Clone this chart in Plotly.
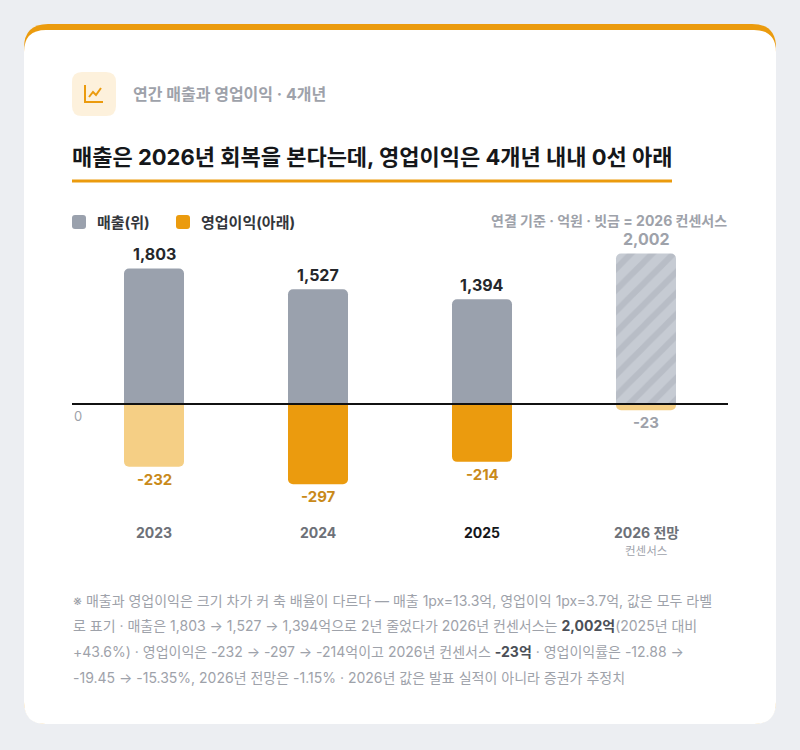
import plotly.graph_objects as go

# 데이터 (억원)
years = ["2023", "2024", "2025", "2026"]
year_labels = ["2023", "2024", "2025", "2026 전망"]
revenue = [1803, 1527, 1394, 2002]
op_profit = [-232, -297, -214, -23]
n_actual = 3  # 2026은 컨센서스 추정치

footnote_lines = [
    "※ 매출과 영업이익은 크기 차가 커 축 배율이 다르다 — 매출 1px=13.3억, 영업이익 1px=3.7억, 값은 모두 라벨",
    "로 표기 · 매출은 1,803 → 1,527 → 1,394억으로 2년 줄었다가 2026년 컨센서스는 <b style='color:#4b4f57'>2,002억</b>(2025년 대비",
    "+43.6%) · 영업이익은 -232 → -297 → -214억이고 2026년 컨센서스 <b style='color:#4b4f57'>-23억</b> · 영업이익률은 -12.88 →",
    "-19.45 → -15.35%, 2026년 전망은 -1.15% · 2026년 값은 발표 실적이 아니라 증권가 추정치",
]

W, H = 800, 750
FONT = "Inter, 'Noto Sans CJK KR', sans-serif"

# 픽셀 배치
PLOT_L, PLOT_R = 72, 728
PLOT_T, PLOT_B, ZERO = 240, 510, 404
REV_PER_PX = 13.3
OP_PER_PX = 3.7

GRAY = "#9aa1ad"
GRAY_EST = "#c6cbd3"
GRAY_STRIPE = "#b8bdc6"
ORANGE = "#eb9b0e"
ORANGE_LIGHT = "#f5cf85"


def px_x(p):
    return p / W


def px_y(p):
    return 1 - p / H


def rounded_rect(x0, y0, x1, y1, r):
    # 픽셀 좌표 -> paper 좌표의 둥근 사각형 path
    X = px_x
    Y = px_y
    return (
        f"M {X(x0 + r)} {Y(y0)} L {X(x1 - r)} {Y(y0)} Q {X(x1)} {Y(y0)} {X(x1)} {Y(y0 + r)} "
        f"L {X(x1)} {Y(y1 - r)} Q {X(x1)} {Y(y1)} {X(x1 - r)} {Y(y1)} "
        f"L {X(x0 + r)} {Y(y1)} Q {X(x0)} {Y(y1)} {X(x0)} {Y(y1 - r)} "
        f"L {X(x0)} {Y(y0 + r)} Q {X(x0)} {Y(y0)} {X(x0 + r)} {Y(y0)} Z"
    )


def poly(points):
    return "M " + " L ".join(f"{px_x(a)} {px_y(b)}" for a, b in points)


fig = go.Figure()

idx = list(range(len(years)))
op_colors = [ORANGE_LIGHT, ORANGE, ORANGE, ORANGE_LIGHT]

# 매출 실적
fig.add_trace(go.Bar(
    x=idx[:n_actual], y=revenue[:n_actual], yaxis="y",
    marker=dict(color=GRAY, line=dict(width=0)),
    hoverinfo="skip", showlegend=False,
))
# 매출 컨센서스 (빗금)
fig.add_trace(go.Bar(
    x=idx[n_actual:], y=revenue[n_actual:], yaxis="y",
    marker=dict(
        color=GRAY_EST, line=dict(width=0),
        pattern=dict(shape="/", fgcolor=GRAY_STRIPE, fgopacity=1, size=15, solidity=0.4, fillmode="overlay"),
    ),
    hoverinfo="skip", showlegend=False,
))
# 영업이익
fig.add_trace(go.Bar(
    x=idx, y=op_profit, yaxis="y2",
    marker=dict(color=op_colors, line=dict(width=0)),
    hoverinfo="skip", showlegend=False,
))

rev_range = [-(PLOT_B - ZERO) * REV_PER_PX, (ZERO - PLOT_T) * REV_PER_PX]
op_range = [-(PLOT_B - ZERO) * OP_PER_PX, (ZERO - PLOT_T) * OP_PER_PX]

annotations = []
shapes = []

# 카드 배경
shapes.append(dict(type="path", path=rounded_rect(24, 24, 776, 724, 24), xref="paper", yref="paper",
                   fillcolor=ORANGE, line=dict(width=0), layer="below"))
shapes.append(dict(type="path", path=rounded_rect(24, 30, 776, 724, 22), xref="paper", yref="paper",
                   fillcolor="white", line=dict(width=0), layer="below"))

# 아이콘
shapes.append(dict(type="path", path=rounded_rect(72, 72, 116, 116, 10), xref="paper", yref="paper",
                   fillcolor="#fdf1dc", line=dict(width=0), layer="below"))
shapes.append(dict(type="path", path=poly([(85, 85), (85, 102), (103, 102)]), xref="paper", yref="paper",
                   line=dict(color=ORANGE, width=2)))
shapes.append(dict(type="path", path=poly([(89, 97), (93, 92), (96, 95), (101, 88)]), xref="paper", yref="paper",
                   line=dict(color=ORANGE, width=2)))

# 제목 밑줄
shapes.append(dict(type="line", xref="paper", yref="paper", x0=px_x(72), x1=px_x(672),
                   y0=px_y(181), y1=px_y(181), line=dict(color=ORANGE, width=3)))

# 범례 사각형
shapes.append(dict(type="path", path=rounded_rect(72, 215, 86, 229, 3), xref="paper", yref="paper",
                   fillcolor=GRAY, line=dict(width=0)))
shapes.append(dict(type="path", path=rounded_rect(176, 215, 190, 229, 3), xref="paper", yref="paper",
                   fillcolor=ORANGE, line=dict(width=0)))

# 0선
shapes.append(dict(type="line", xref="paper", yref="y", x0=px_x(PLOT_L), x1=px_x(PLOT_R), y0=0, y1=0,
                   line=dict(color="#111111", width=2), layer="above"))


def text(x, y, s, size, color, bold=False, anchor="left"):
    annotations.append(dict(
        x=px_x(x), y=px_y(y), xref="paper", yref="paper", text=f"<b>{s}</b>" if bold else s,
        showarrow=False, xanchor=anchor, yanchor="middle",
        font=dict(size=size, color=color, family=FONT),
    ))


text(131, 94, "연간 매출과 영업이익 · 4개년", 16, "#9ea2aa", bold=True)
text(70, 157, "매출은 2026년 회복을 본다는데, 영업이익은 4개년 내내 0선 아래", 22, "#15171a", bold=True)
text(95, 222, "매출(위)", 15, "#33363b", bold=True)
text(199, 222, "영업이익(아래)", 15, "#33363b", bold=True)
text(729, 221, "연결 기준 · 억원 · 빗금 = 2026 컨센서스", 14, "#9ea2aa", bold=True, anchor="right")
text(72, 416, "0", 13, "#9ea2aa")

# 값 라벨
rev_label_colors = ["#25272b", "#25272b", "#25272b", "#9ea2aa"]
op_label_colors = ["#c98a1a", "#c98a1a", "#c98a1a", "#9ea2aa"]
for i, v in enumerate(revenue):
    annotations.append(dict(x=i, y=v, xref="x", yref="y", text=f"<b>{v:,}</b>", showarrow=False,
                            yanchor="bottom", yshift=2, font=dict(size=16, color=rev_label_colors[i], family=FONT)))
for i, v in enumerate(op_profit):
    annotations.append(dict(x=i, y=v, xref="x", yref="y2", text=f"<b>{v:,}</b>", showarrow=False,
                            yanchor="top", yshift=-1, font=dict(size=15, color=op_label_colors[i], family=FONT)))

# x 라벨
year_colors = ["#6d7178", "#6d7178", "#15171a", "#6d7178"]
for i, lab in enumerate(year_labels):
    annotations.append(dict(x=i, y=px_y(532), xref="x", yref="paper", text=f"<b>{lab}</b>", showarrow=False,
                            yanchor="middle", font=dict(size=14, color=year_colors[i], family=FONT)))
annotations.append(dict(x=3, y=px_y(551), xref="x", yref="paper", text="컨센서스", showarrow=False,
                        yanchor="middle", font=dict(size=11.5, color="#9ea2aa", family=FONT)))

# 각주
for k, line in enumerate(footnote_lines):
    text(71, 600 + k * 25.7, line, 14, "#9ea2aa")

fig.update_layout(
    width=W, height=H,
    margin=dict(l=0, r=0, t=0, b=0),
    paper_bgcolor="#eceef2",
    plot_bgcolor="rgba(0,0,0,0)",
    barmode="overlay",
    bargap=1 - 60 / 164,
    barcornerradius=5,
    font=dict(family=FONT),
    xaxis=dict(domain=[px_x(PLOT_L), px_x(PLOT_R)], range=[-0.5, 3.5], visible=False, fixedrange=True),
    yaxis=dict(domain=[px_y(PLOT_B), px_y(PLOT_T)], range=rev_range, visible=False, fixedrange=True),
    yaxis2=dict(overlaying="y", range=op_range, visible=False, fixedrange=True),
    shapes=shapes,
    annotations=annotations,
)

# 페이지 기본 여백 제거
fig.write_html("out.html", config={"displayModeBar": False},
               post_script="document.body.style.margin='0';")
